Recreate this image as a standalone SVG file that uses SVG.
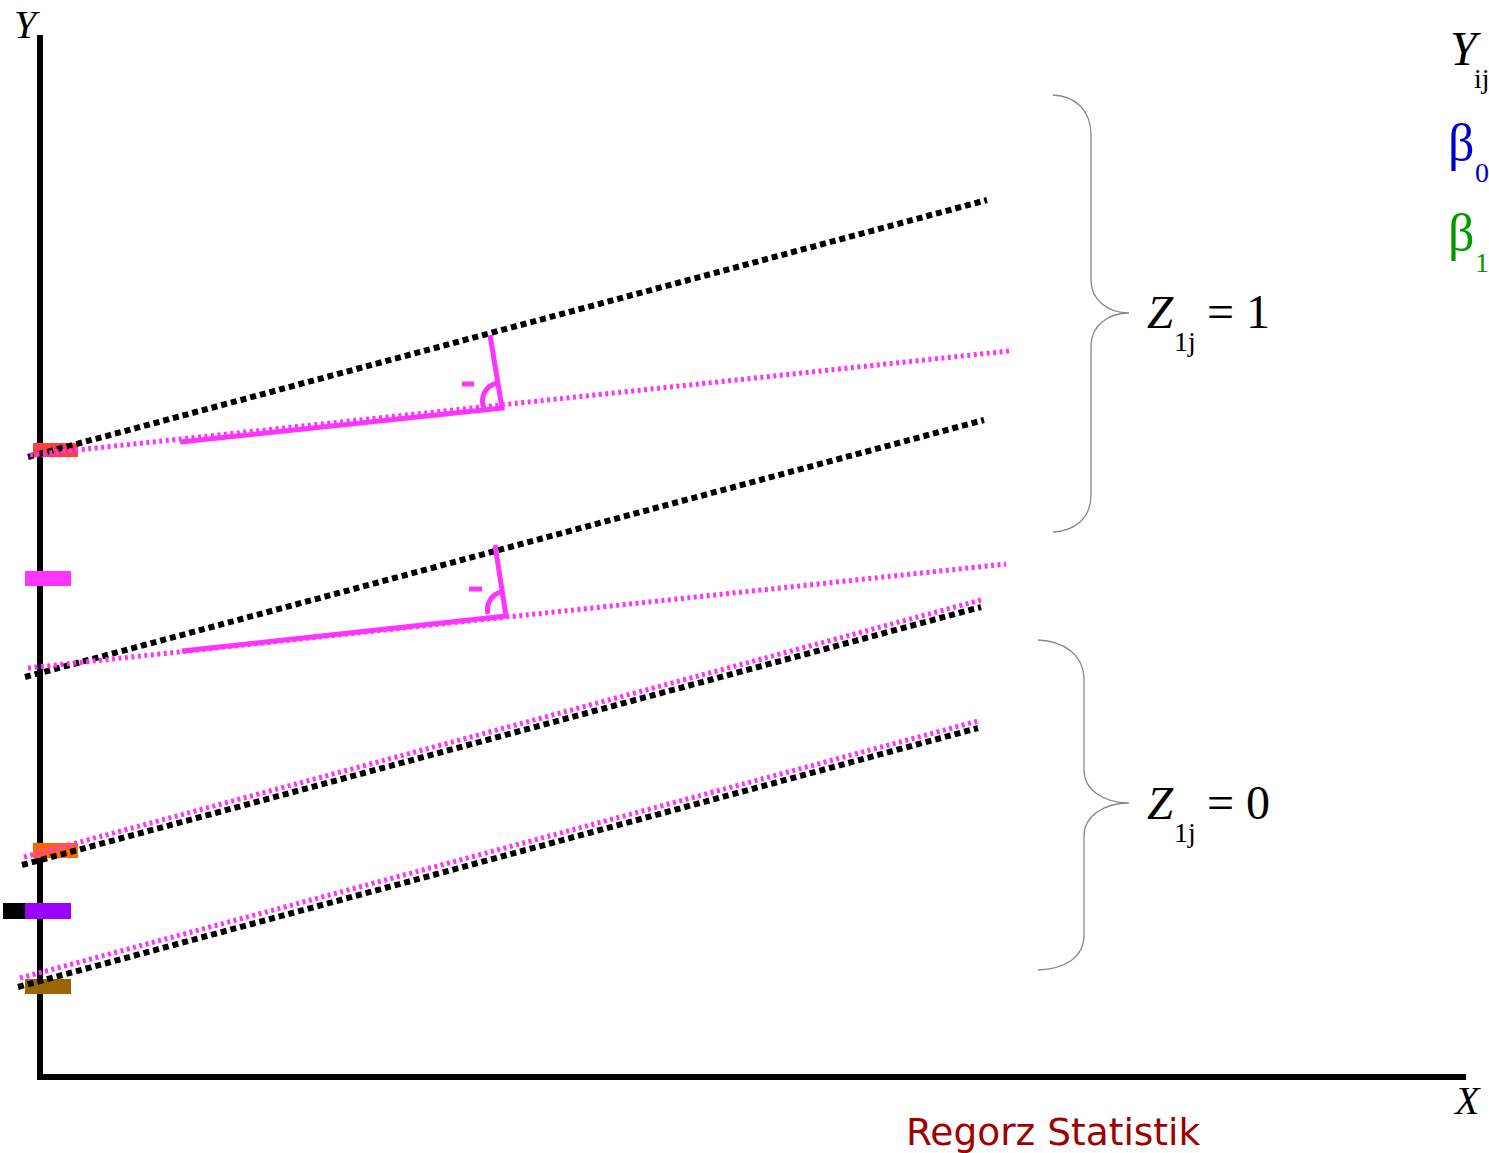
<svg xmlns="http://www.w3.org/2000/svg" width="1489" height="1153" viewBox="0 0 1489 1153">
<style>
.blk{stroke:#000;stroke-width:6;stroke-dasharray:6,4;fill:none}
.pk{stroke:#ff33ff;stroke-width:5;stroke-dasharray:3,3.5;fill:none}
.pks{stroke:#ff33ff;stroke-width:5;fill:none;stroke-linecap:butt}
.brace{stroke:#888;stroke-width:1.3;fill:none}
.ser{font-family:"Liberation Serif",serif;}
.it{font-style:italic}
</style>
<rect width="1489" height="1153" fill="#fff"/>
<g id="axes">
<line x1="40" y1="35" x2="40" y2="1080" stroke="#000" stroke-width="6"/>
<line x1="40" y1="1077" x2="1466" y2="1077" stroke="#000" stroke-width="6"/>
<text x="14" y="38" class="ser it" font-size="40">Y</text>
<text x="1455" y="1114" class="ser it" font-size="40">X</text>
</g>
<g id="ticks">
<rect x="33" y="443" width="45" height="14" fill="#ff4040"/>
<rect x="25" y="571" width="46" height="15" fill="#ff33ff"/>
<rect x="33" y="843" width="45" height="15" fill="#ff6600"/>
<rect x="3" y="903" width="23" height="16" fill="#000"/>
<rect x="25" y="903" width="46" height="16" fill="#9900ff"/>
<rect x="25" y="979" width="46" height="15" fill="#996600"/>
</g>
<g id="connectors">
<line class="blk" x1="28" y1="457" x2="987" y2="200"/>
<line class="pk" x1="30" y1="455" x2="1009" y2="351"/>
<line class="blk" x1="25" y1="677" x2="984" y2="420"/>
<line class="pk" x1="28" y1="668" x2="1006" y2="564"/>
<line class="blk" x1="22" y1="865" x2="981" y2="607"/>
<line class="pk" x1="24" y1="857" x2="981" y2="600"/>
<line class="blk" x1="18" y1="987" x2="978" y2="728"/>
<line class="pk" x1="20" y1="978" x2="978" y2="721"/>
</g>
<g id="angle1">
<polyline class="pks" points="180,442 502,408 490,335"/>
<path class="pks" d="M484,408 A18,18 0 0 1 498,383"/>
<line class="pks" x1="462" y1="384" x2="474" y2="384"/>
</g>
<g id="angle2">
<polyline class="pks" points="182,651 506,616 495,545"/>
<path class="pks" d="M488,614 A18,18 0 0 1 501,592"/>
<line class="pks" x1="469" y1="589" x2="482" y2="589"/>
</g>
<g id="brace1">
<path class="brace" d="M1053,95 C1075,96 1091,110 1091,135 L1091,280 C1091,300 1108,313 1129,313 C1108,313 1091,326 1091,346 L1091,495 C1091,518 1075,531 1053,532"/>
<text x="1147" y="328" class="ser it" font-size="47">Z</text>
<text x="1174" y="351" class="ser" font-size="28">1j</text>
<text x="1207" y="328" class="ser" font-size="48">= 1</text>
</g>
<g id="brace2">
<path class="brace" d="M1038,640 C1064,641 1084,655 1084,680 L1084,770 C1084,790 1104,803 1129,803 C1104,803 1084,816 1084,836 L1084,935 C1084,958 1064,969 1038,970"/>
<text x="1147" y="819" class="ser it" font-size="47">Z</text>
<text x="1174" y="842" class="ser" font-size="28">1j</text>
<text x="1207" y="819" class="ser" font-size="48">= 0</text>
</g>
<g id="legend">
<text x="1450" y="65" class="ser it" font-size="48">Y</text>
<text x="1474" y="88" class="ser" font-size="28">ij</text>
<text x="1448" y="160" class="ser" font-size="52" fill="#0000cc">β</text>
<text x="1475" y="182" class="ser" font-size="28" fill="#0000cc">0</text>
<text x="1448" y="250" class="ser" font-size="52" fill="#009900">β</text>
<text x="1475" y="272" class="ser" font-size="28" fill="#009900">1</text>
</g>
<text x="906" y="1145" font-family="DejaVu Sans,sans-serif" font-size="37.5" fill="#a00000">Regorz Statistik</text>
</svg>
